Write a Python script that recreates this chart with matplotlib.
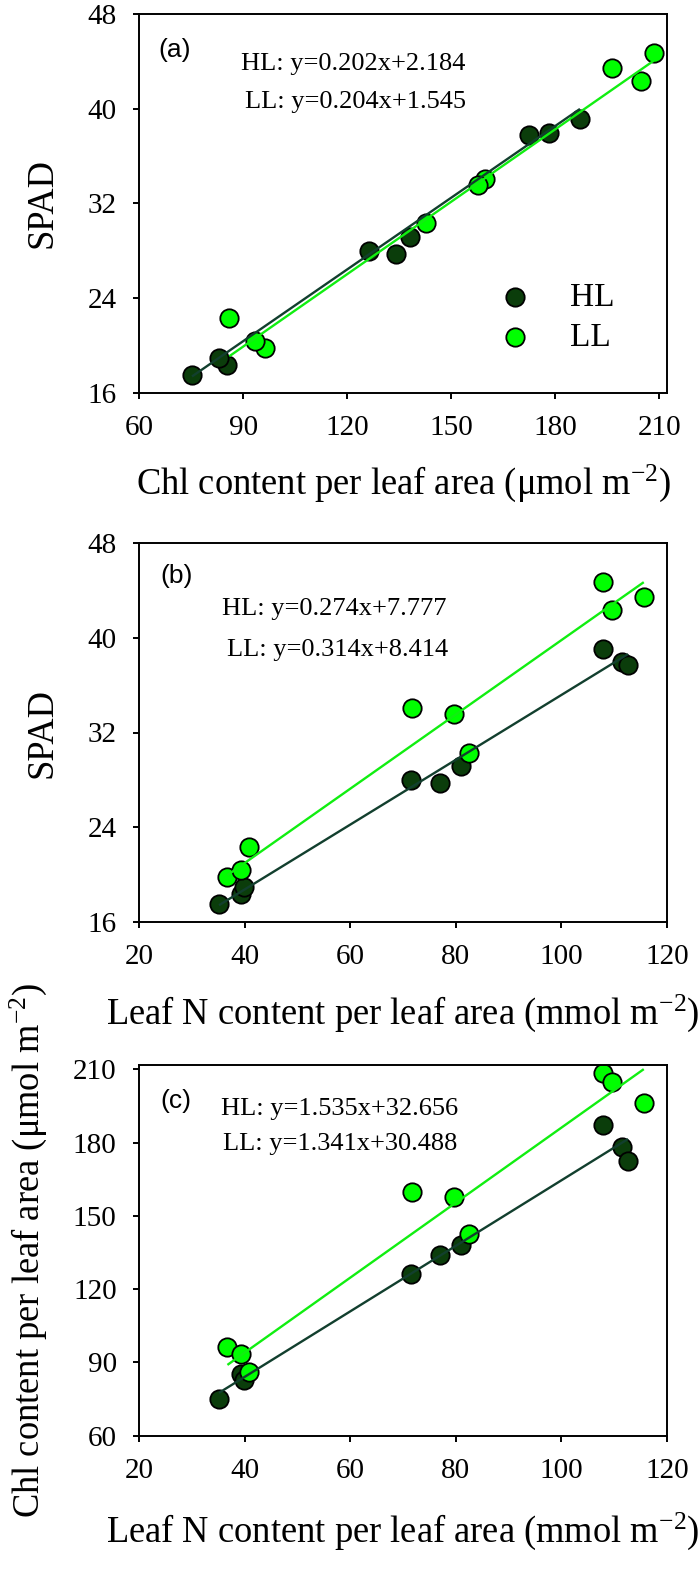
import matplotlib
matplotlib.use('Agg')
import matplotlib.pyplot as plt
import numpy as np

plt.rcParams['font.family'] = ['Liberation Serif', 'DejaVu Serif']
plt.rcParams['mathtext.fontset'] = 'custom'
plt.rcParams['mathtext.rm'] = 'Liberation Serif'
plt.rcParams['mathtext.it'] = 'Liberation Serif:italic'

# ---- data ----
hl_n = [35.1, 39.3, 39.9, 71.5, 76.9, 80.9, 107.8, 111.4, 112.6]
hl_chl = [75.2, 85.25, 82.85, 126.15, 134.1, 138.1, 187.1, 178.1, 172.4]
hl_spad = [17.5, 18.35, 18.95, 28.0, 27.75, 29.15, 39.1, 37.95, 37.75]

ll_n = [36.7, 39.2, 40.8, 71.6, 79.6, 82.5, 107.8, 109.5, 115.6]
ll_chl = [96.25, 93.4, 85.95, 159.8, 157.7, 142.8, 208.35, 204.7, 196.3]
ll_spad = [19.8, 20.35, 22.35, 34.05, 33.55, 30.3, 44.7, 42.35, 43.45]

# regression lines as drawn (slope, intercept)
fit_a_hl = (0.202, 2.184)
fit_a_ll = (0.204, 1.545)
fit_b_hl = (0.274, 7.777)
fit_b_ll = (0.314, 8.414)
fit_c_hl = (1.341, 30.488)
fit_c_ll = (1.535, 32.656)

eq_a = ["HL: y=0.202x+2.184", "LL: y=0.204x+1.545"]
eq_b = ["HL: y=0.274x+7.777", "LL: y=0.314x+8.414"]
eq_c = ["HL: y=1.535x+32.656", "LL: y=1.341x+30.488"]

xticks_a = [60, 90, 120, 150, 180, 210]
xticks_bc = [20, 40, 60, 80, 100, 120]
yticks_spad = [16, 24, 32, 40, 48]
yticks_chl = [60, 90, 120, 150, 180, 210]

HL_FILL = '#0b3d0b'
LL_FILL = '#00ff00'
HL_LINE = '#123f2e'
LL_LINE = '#11ee11'

W, H = 700, 1573
fig = plt.figure(figsize=(W / 100, H / 100), dpi=100)

def ax_rect(left, top, right, bottom):
    return [left / W, 1 - bottom / H, (right - left) / W, (bottom - top) / H]

SUP = '$^{\\mathregular{-2}}$'
panels = [
    dict(rect=ax_rect(139.3, 14, 667, 392.7), hx=hl_chl, hy=hl_spad, lx=ll_chl, ly=ll_spad,
         fh=fit_a_hl, fl=fit_a_ll, eq=eq_a, tag='(a)', xlim=(60, 212.2), ylim=(16, 48),
         xt=xticks_a, yt=yticks_spad,
         xlabel='Chl content per leaf area (μmol m' + SUP + ')', ylabel='SPAD',
         eqpos=[(0.405, 0.869), (0.41, 0.767)], tagpos=(0.037, 0.906), legend=True,
         xl_off=101.6, yl_x=60),
    dict(rect=ax_rect(139.3, 543.3, 667, 921.7), hx=hl_n, hy=hl_spad, lx=ll_n, ly=ll_spad,
         fh=fit_b_hl, fl=fit_b_ll, eq=eq_b, tag='(b)', xlim=(20, 120), ylim=(16, 48),
         xt=xticks_bc, yt=yticks_spad,
         xlabel='Leaf N content per leaf area (mmol m' + SUP + ')', ylabel='SPAD',
         eqpos=[(0.37, 0.827), (0.375, 0.717)], tagpos=(0.04, 0.913), legend=False,
         xl_off=102, yl_x=60),
    dict(rect=ax_rect(139.3, 1065, 667, 1435.7), hx=hl_n, hy=hl_chl, lx=ll_n, ly=ll_chl,
         fh=fit_c_hl, fl=fit_c_ll, eq=eq_c, tag='(c)', xlim=(20, 120), ylim=(60, 211.8),
         xt=xticks_bc, yt=yticks_chl,
         xlabel='Leaf N content per leaf area (mmol m' + SUP + ')',
         ylabel='Chl content per leaf area (μmol m' + SUP + ')',
         eqpos=[(0.38, 0.881), (0.38, 0.788)], tagpos=(0.04, 0.903), legend=False,
         xl_off=106, yl_x=49),
]

for p in panels:
    ax = fig.add_axes(p['rect'])
    ax.scatter(p['hx'], p['hy'], s=175, c=HL_FILL, edgecolors='black', linewidths=1.3, zorder=2)
    ax.scatter(p['lx'], p['ly'], s=175, c=LL_FILL, edgecolors='black', linewidths=1.3, zorder=2.1)
    for xs, (m, b), col in [(p['hx'], p['fh'], HL_LINE), (p['lx'], p['fl'], LL_LINE)]:
        xx = np.array([min(xs), max(xs)])
        ax.plot(xx, m * xx + b, color=col, lw=1.7, zorder=3, solid_capstyle='butt')
    ax.set_xlim(*p['xlim'])
    ax.set_ylim(*p['ylim'])
    ax.set_xticks(p['xt'])
    ax.set_yticks(p['yt'])
    for s in ax.spines.values():
        s.set_linewidth(1.4)
    ax.tick_params(direction='out', length=4.5, width=1.4, labelsize=21, pad=11.8,
                   top=False, right=False)
    h = p['rect'][3] * H
    w = p['rect'][2] * W
    ax.set_xlabel(p['xlabel'], fontsize=26.3, va='baseline')
    ax.xaxis.set_label_coords(0.5, -p['xl_off'] / h)
    ax.set_ylabel(p['ylabel'], fontsize=26.3, va='bottom')
    ax.yaxis.set_label_coords((p['yl_x'] - 139.3) / w, 0.5)
    ax.text(p['tagpos'][0], p['tagpos'][1], p['tag'], transform=ax.transAxes,
            fontsize=19, family=['Liberation Sans', 'DejaVu Sans'], ha='left', va='center')
    for (tx, ty), s in zip(p['eqpos'], p['eq']):
        ax.text(tx, ty, s, transform=ax.transAxes, fontsize=19, ha='center', va='center')
    if p['legend']:
        for yy, col, lab in [(0.252, HL_FILL, 'HL'), (0.146, LL_FILL, 'LL')]:
            ax.scatter([0.712], [yy], s=175, c=col, edgecolors='black', linewidths=1.3,
                       transform=ax.transAxes, zorder=4, clip_on=False)
            ax.text(0.816, yy, lab, transform=ax.transAxes, fontsize=24, ha='left', va='center')

fig.savefig('out.png', dpi=100)
